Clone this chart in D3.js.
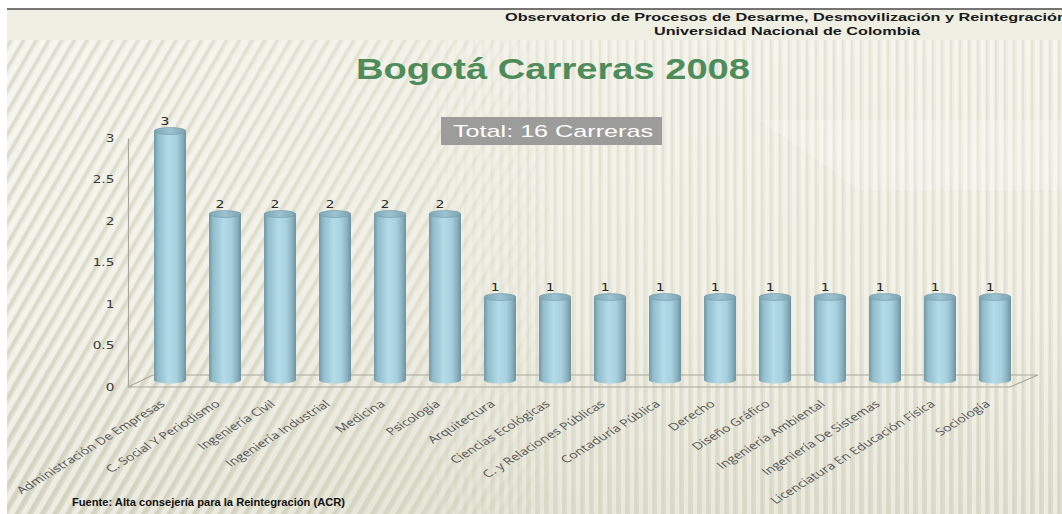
<!DOCTYPE html>
<html>
<head>
<meta charset="utf-8">
<script src="https://cdn.jsdelivr.net/npm/d3@7"></script>
<style>
  body { margin: 0; background: #fff; }
  svg { display: block; }
</style>
</head>
<body>
<div id="chart"></div>
<script>
// data
var categories = ["Administración De Empresas", "C. Social Y Periodismo", "Ingeniería Civil",
    "Ingeniería Industrial", "Medicina", "Psicología", "Arquitectura", "Ciencias Ecológicas",
    "C. y Relaciones Públicas", "Contaduría Pública", "Derecho", "Diseño Gráfico",
    "Ingeniería Ambiental", "Ingeniería De Sistemas", "Licenciatura En Educación Física", "Sociología"];
var values = [3, 2, 2, 2, 2, 2, 1, 1, 1, 1, 1, 1, 1, 1, 1, 1];
var yTicks = [0, 0.5, 1, 1.5, 2, 2.5, 3];

var W = 1062, H = 514;
var depth = 7;     // 3d shift of the bars behind the axis plane
var stretch = 1.4; // the slide is stretched sideways, text too

var svg = d3.select("#chart").append("svg")
    .attr("width", W)
    .attr("height", H);

var defs = svg.append("defs");

// background gradient
var bg = defs.append("linearGradient").attr("id", "bgGrad")
    .attr("x1", 0).attr("y1", 0).attr("x2", 0).attr("y2", 1);
bg.append("stop").attr("offset", "0%").attr("stop-color", "#efefe4");
bg.append("stop").attr("offset", "60%").attr("stop-color", "#e9e8da");
bg.append("stop").attr("offset", "100%").attr("stop-color", "#dcdbc9");

// diagonal stripes (left) and vertical stripes (right)
var diag = defs.append("pattern").attr("id", "diag")
    .attr("width", 11).attr("height", 11)
    .attr("patternUnits", "userSpaceOnUse")
    .attr("patternTransform", "rotate(30)");
diag.append("rect").attr("width", 5).attr("height", 11).attr("fill", "#ffffff").attr("opacity", 0.5);
diag.append("rect").attr("x", 6).attr("width", 3).attr("height", 11).attr("fill", "#c4c3ae").attr("opacity", 0.4);

var vert = defs.append("pattern").attr("id", "vert")
    .attr("width", 9).attr("height", 9)
    .attr("patternUnits", "userSpaceOnUse");
vert.append("rect").attr("width", 4).attr("height", 9).attr("fill", "#ffffff").attr("opacity", 0.45);
vert.append("rect").attr("x", 5).attr("width", 2).attr("height", 9).attr("fill", "#cfcebb").attr("opacity", 0.3);

var fadeL = defs.append("linearGradient").attr("id", "fadeL")
    .attr("x1", 0).attr("y1", 0).attr("x2", 1).attr("y2", 0);
fadeL.append("stop").attr("offset", "0%").attr("stop-color", "#fff").attr("stop-opacity", 1);
fadeL.append("stop").attr("offset", "75%").attr("stop-color", "#fff").attr("stop-opacity", 0.6);
fadeL.append("stop").attr("offset", "100%").attr("stop-color", "#fff").attr("stop-opacity", 0);
defs.append("mask").attr("id", "maskL").append("rect")
    .attr("x", 0).attr("y", 0).attr("width", 560).attr("height", H).attr("fill", "url(#fadeL)");

var fadeR = defs.append("linearGradient").attr("id", "fadeR")
    .attr("x1", 0).attr("y1", 0).attr("x2", 1).attr("y2", 0);
fadeR.append("stop").attr("offset", "0%").attr("stop-color", "#fff").attr("stop-opacity", 0);
fadeR.append("stop").attr("offset", "25%").attr("stop-color", "#fff").attr("stop-opacity", 0.8);
fadeR.append("stop").attr("offset", "100%").attr("stop-color", "#fff").attr("stop-opacity", 1);
defs.append("mask").attr("id", "maskR").append("rect")
    .attr("x", 400).attr("y", 0).attr("width", W - 400).attr("height", H).attr("fill", "url(#fadeR)");

// cylinder gradient
var cyl = defs.append("linearGradient").attr("id", "cyl")
    .attr("x1", 0).attr("y1", 0).attr("x2", 1).attr("y2", 0);
cyl.append("stop").attr("offset", "0%").attr("stop-color", "#6e95a4");
cyl.append("stop").attr("offset", "12%").attr("stop-color", "#92bccb");
cyl.append("stop").attr("offset", "45%").attr("stop-color", "#b3dbe8");
cyl.append("stop").attr("offset", "70%").attr("stop-color", "#a8d1df");
cyl.append("stop").attr("offset", "90%").attr("stop-color", "#86adbc");
cyl.append("stop").attr("offset", "100%").attr("stop-color", "#6a8f9e");

var topGrad = defs.append("linearGradient").attr("id", "cylTop")
    .attr("x1", 0).attr("y1", 0).attr("x2", 1).attr("y2", 0);
topGrad.append("stop").attr("offset", "0%").attr("stop-color", "#7fa6b5");
topGrad.append("stop").attr("offset", "50%").attr("stop-color", "#9cc3d1");
topGrad.append("stop").attr("offset", "100%").attr("stop-color", "#7ea3b2");

var lineGrad = defs.append("linearGradient").attr("id", "lineGrad")
    .attr("x1", 0).attr("y1", 0).attr("x2", 1).attr("y2", 0);
lineGrad.append("stop").attr("offset", "0%").attr("stop-color", "#9aab94").attr("stop-opacity", 0.2);
lineGrad.append("stop").attr("offset", "30%").attr("stop-color", "#7f9a7f").attr("stop-opacity", 0.9);
lineGrad.append("stop").attr("offset", "100%").attr("stop-color", "#8a9f88").attr("stop-opacity", 0.8);

// background
svg.append("rect").attr("width", W).attr("height", H).attr("fill", "#ffffff");
svg.append("rect").attr("x", 7).attr("y", 9).attr("width", W - 7).attr("height", H - 9)
    .attr("fill", "url(#bgGrad)");
svg.append("rect").attr("x", 7).attr("y", 40).attr("width", 553).attr("height", H - 40)
    .attr("fill", "url(#diag)").attr("mask", "url(#maskL)");
svg.append("rect").attr("x", 400).attr("y", 40).attr("width", W - 400).attr("height", H - 40)
    .attr("fill", "url(#vert)").attr("mask", "url(#maskR)");
// light band top right
svg.append("path")
    .attr("d", "M760,120 L1062,120 L1062,190 L860,190 Z")
    .attr("fill", "#ffffff").attr("opacity", 0.18);
// top dark rule
svg.append("line").attr("x1", 7).attr("x2", W).attr("y1", 9).attr("y2", 9)
    .attr("stroke", "#4a4a48").attr("stroke-width", 1.5);

// header
svg.append("text")
    .attr("x", 505).attr("y", 21)
    .attr("textLength", 562).attr("lengthAdjust", "spacingAndGlyphs")
    .style("font-family", "'Liberation Sans', Arial, sans-serif")
    .style("font-weight", "bold")
    .style("font-size", "11.5px")
    .style("fill", "#1a1a1a")
    .text("Observatorio de Procesos  de Desarme, Desmovilización y  Reintegración");
svg.append("text")
    .attr("x", 654).attr("y", 35)
    .attr("textLength", 266).attr("lengthAdjust", "spacingAndGlyphs")
    .style("font-family", "'Liberation Sans', Arial, sans-serif")
    .style("font-weight", "bold")
    .style("font-size", "11.5px")
    .style("fill", "#1a1a1a")
    .text("Universidad Nacional de Colombia");

// title
svg.append("text")
    .attr("x", 356).attr("y", 79)
    .attr("textLength", 394).attr("lengthAdjust", "spacingAndGlyphs")
    .style("font-family", "'Liberation Sans', Arial, sans-serif")
    .style("font-weight", "bold")
    .style("font-size", "30px")
    .style("fill", "#4f8c5b")
    .text("Bogotá Carreras 2008");
svg.append("line").attr("x1", 30).attr("x2", W).attr("y1", 88).attr("y2", 88)
    .attr("stroke", "url(#lineGrad)").attr("stroke-width", 1.2);

// scales
var x = d3.scaleBand().domain(categories).range([142.5, 1022.5]).padding(0);
var y = d3.scaleLinear().domain([0, 3]).range([387, 138]);
var barW = x.bandwidth() * 0.58;
var rx = barW / 2, ry = 3.5;

// floor (3d parallelogram)
var floorL = 128, floorR = 1010, floorBack = y(0) - 12;
svg.append("path")
    .attr("d", "M" + floorL + "," + y(0) + " L" + (floorL + 25) + "," + floorBack +
        " L" + (floorR + 28) + "," + floorBack + " L" + floorR + "," + y(0) + " Z")
    .attr("fill", "none")
    .attr("stroke", "#a9a89c")
    .attr("stroke-width", 1.2);

// y axis
var yAxis = d3.axisLeft(y).tickValues(yTicks).tickSize(0).tickPadding(10.5)
    .tickFormat(function(d) { return String(d); });
var gy = svg.append("g")
    .attr("transform", "translate(" + floorL + ",0)")
    .call(yAxis);
gy.select(".domain").attr("stroke", "#a9a89c").attr("stroke-width", 1.2);
gy.selectAll("text")
    .attr("transform", "scale(1.3,1)")
    .style("font-family", "'DejaVu Sans', Verdana, sans-serif")
    .style("font-size", "10.5px")
    .style("fill", "#3a3a3a");

// bars as cylinders
var bars = svg.selectAll(".bar")
    .data(categories)
    .enter()
    .append("g")
    .attr("class", "bar");

bars.append("ellipse")
    .attr("cx", function(d) { return x(d) + x.bandwidth() / 2; })
    .attr("cy", y(0) - depth)
    .attr("rx", rx).attr("ry", ry)
    .attr("fill", "url(#cyl)");
bars.append("rect")
    .attr("x", function(d) { return x(d) + x.bandwidth() / 2 - rx; })
    .attr("y", function(d, i) { return y(values[i]) - depth; })
    .attr("width", barW)
    .attr("height", function(d, i) { return y(0) - y(values[i]); })
    .attr("fill", "url(#cyl)");
bars.append("ellipse")
    .attr("cx", function(d) { return x(d) + x.bandwidth() / 2; })
    .attr("cy", function(d, i) { return y(values[i]) - depth; })
    .attr("rx", rx).attr("ry", ry)
    .attr("fill", "url(#cylTop)")
    .attr("stroke", "#7199a8")
    .attr("stroke-width", 0.6);

// value labels
bars.append("text")
    .attr("transform", function(d, i) {
        return "translate(" + (x(d) + x.bandwidth() / 2 - 5) + "," + (y(values[i]) - depth - 6) + ") scale(" + stretch + ",1)";
    })
    .attr("text-anchor", "middle")
    .style("font-family", "'DejaVu Sans Mono', monospace")
    .style("font-size", "10.5px")
    .style("fill", "#2a2a2a")
    .text(function(d, i) { return values[i]; });

// x labels, rotated (and stretched like the slide)
svg.selectAll(".xlab")
    .data(categories)
    .enter()
    .append("text")
    .attr("class", "xlab")
    .attr("text-anchor", "end")
    .attr("transform", function(d) {
        return "translate(" + (x(d) + x.bandwidth() / 2 - 4) + ",405) scale(" + stretch + ",1) rotate(-41)";
    })
    .style("font-family", "'Open Sans', sans-serif")
    .style("font-size", "10.2px")
    .style("fill", "#555")
    .text(function(d) { return d; });

// total box
var box = svg.append("g").attr("transform", "translate(441,117)");
box.append("rect").attr("width", 221).attr("height", 28).attr("fill", "#9c9c9a");
box.append("text")
    .attr("x", 12).attr("y", 20)
    .attr("textLength", 200).attr("lengthAdjust", "spacingAndGlyphs")
    .style("font-family", "'Liberation Sans', Arial, sans-serif")
    .style("font-size", "17px")
    .style("fill", "#ffffff")
    .text("Total: " + categories.length + " Carreras");

// source
svg.append("text")
    .attr("x", 72).attr("y", 506)
    .attr("textLength", 273).attr("lengthAdjust", "spacingAndGlyphs")
    .style("font-family", "'Liberation Sans', Arial, sans-serif")
    .style("font-weight", "bold")
    .style("font-size", "10.5px")
    .style("fill", "#111")
    .text("Fuente: Alta consejería para la Reintegración (ACR)");
</script>
</body>
</html>
